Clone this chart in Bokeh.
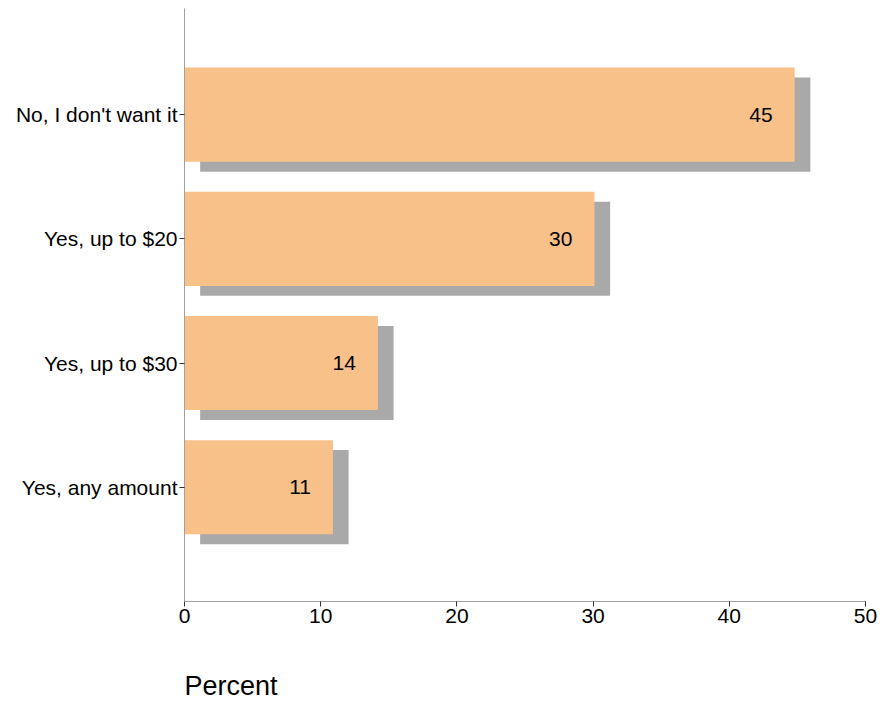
from bokeh.plotting import figure
from bokeh.models import ColumnDataSource, FixedTicker, Label
from bokeh.core.properties import value
from bokeh.embed import file_html
from bokeh.resources import INLINE

categories = ["No, I don't want it", "Yes, up to $20", "Yes, up to $30", "Yes, any amount"]
percent = [44.8, 30.1, 14.2, 10.9]
value_labels = ["45", "30", "14", "11"]
x_ticks = [0, 10, 20, 30, 40, 50]
x_title = "Percent"

positions = [len(categories) - i for i in range(len(categories))]
shadow_dx = 1.15
shadow_dy = 0.08

# layout: the frame fills the page; axes are pinned inside it
px_per_x = 681 / 50
x_lo, x_hi = 0, 50
x_start = x_lo - 184 / px_per_x
x_end = x_hi + 15 / px_per_x

px_per_y = 124
y_axis_top = 4.855
y_axis_pos = 0.081
y_end = y_axis_top + 8 / px_per_y
y_start = y_axis_pos - 103 / px_per_y
y_title = y_axis_pos - 85 / px_per_y

src = ColumnDataSource(dict(
    y=positions,
    v=percent,
    lab=value_labels,
    sy=[p - shadow_dy for p in positions],
    sl=[shadow_dx] * len(percent),
    sr=[v + shadow_dx for v in percent],
))

FONT = "Liberation Sans"

p = figure(frame_width=880, frame_height=704, output_backend="svg", toolbar_location=None,
           x_range=(x_start, x_end), y_range=(y_start, y_end),
           min_border_left=0, min_border_right=0, min_border_top=0, min_border_bottom=0)
p.outline_line_color = None
p.grid.visible = False
p.background_fill_color = "white"
p.border_fill_color = "white"

p.hbar(y="sy", left="sl", right="sr", height=0.758, source=src,
       fill_color="#A9A9A9", line_color=None)
p.hbar(y="y", left=0, right="v", height=0.758, source=src,
       fill_color="#F8C18A", line_color=None)
p.text(x="v", y="y", text="lab", source=src, x_offset=-22, text_align="right",
       text_baseline="middle", text_font=value(FONT), text_font_size="21px", text_color="black")

xa = p.xaxis[0]
xa.fixed_location = y_axis_pos
xa.bounds = (x_lo, x_hi)
xa.ticker = FixedTicker(ticks=x_ticks)
xa.axis_line_color = "#A0A0A0"
xa.major_tick_line_color = "#333333"
xa.major_tick_in = 0
xa.major_tick_out = 5
xa.minor_tick_line_color = None
xa.major_label_text_font = FONT
xa.major_label_text_font_size = "21px"
xa.major_label_text_color = "black"
xa.major_label_standoff = 3

p.add_layout(Label(x=0, y=y_title, x_offset=0, text=x_title,
                   text_font=FONT, text_font_size="27px", text_color="black",
                   text_align="left", text_baseline="middle"))

ya = p.yaxis[0]
ya.fixed_location = x_lo
ya.bounds = (y_axis_pos, y_axis_top)
ya.ticker = FixedTicker(ticks=positions)
ya.major_label_overrides = {pos: c for pos, c in zip(positions, categories)}
ya.axis_line_color = "#A0A0A0"
ya.major_tick_line_color = "#333333"
ya.major_tick_in = 0
ya.major_tick_out = 5
ya.minor_tick_line_color = None
ya.major_label_text_font = FONT
ya.major_label_text_font_size = "21px"
ya.major_label_text_color = "black"
ya.major_label_standoff = 2

open("out.html", "w").write(file_html(p, INLINE))
